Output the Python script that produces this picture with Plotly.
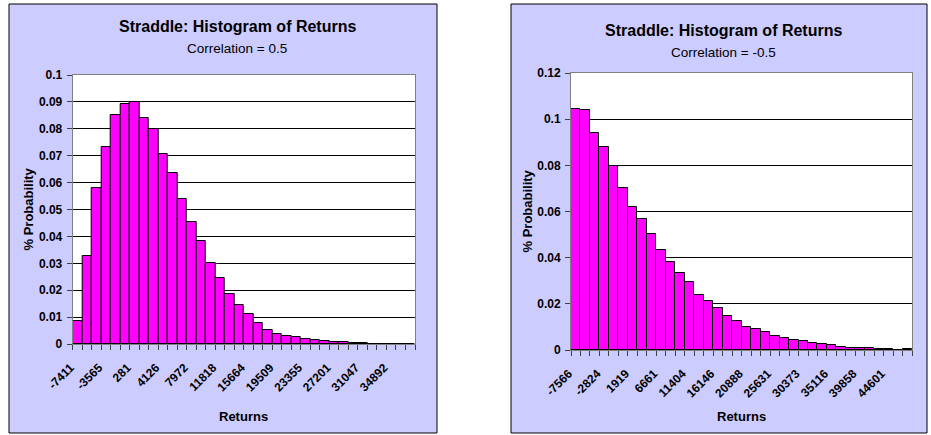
import plotly.graph_objects as go

W, H = 931, 435

# ---------------- data ----------------
left_categories = [
    "-7411", "-6129", "-4847", "-3565", "-2283", "-1001", "281", "1563", "2844",
    "4126", "5408", "6690", "7972", "9254", "10536", "11818", "13100", "14382",
    "15664", "16945", "18227", "19509", "20791", "22073", "23355", "24637", "25919",
    "27201", "28483", "29765", "31047", "32329", "33610", "34892", "36174", "37456",
]
left_probs = [
    0.0085, 0.0329, 0.0580, 0.0731, 0.0850, 0.0892, 0.0898, 0.0839, 0.0800,
    0.0705, 0.0635, 0.0538, 0.0452, 0.0384, 0.0301, 0.0244, 0.0186, 0.0146,
    0.0111, 0.0078, 0.0053, 0.0038, 0.0031, 0.0025, 0.0019, 0.0015, 0.0011,
    0.0007, 0.0006, 0.0004, 0.0002, 0.0, 0.0, 0.0, 0.0, 0.0,
]

right_categories = [
    "-7566", "-5985", "-4404", "-2824", "-1243", "338", "1919", "3500", "5080",
    "6661", "8242", "9823", "11404", "12985", "14565", "16146", "17727", "19307",
    "20888", "22469", "24050", "25631", "27212", "28792", "30373", "31954", "33535",
    "35116", "36697", "38277", "39858", "41439", "43020", "44601", "46182", "47762",
]
right_probs = [
    0.1045, 0.1038, 0.0938, 0.0879, 0.0799, 0.0703, 0.0618, 0.0569, 0.0501,
    0.0433, 0.0380, 0.0332, 0.0294, 0.0240, 0.0211, 0.0183, 0.0146, 0.0127,
    0.0101, 0.0089, 0.0076, 0.0061, 0.0050, 0.0043, 0.0039, 0.0029, 0.0024,
    0.0020, 0.0011, 0.0007, 0.0007, 0.0007, 0.0004, 0.0004, 0.0, 0.0004,
]

titles = ["Straddle: Histogram of Returns", "Straddle: Histogram of Returns"]
subtitles = ["Correlation = 0.5", "Correlation = -0.5"]
x_title = "Returns"
y_title = "% Probability"
label_step = 3


def px_x(p):
    return p / W


def px_y(p):
    return 1 - p / H


FONT = "Liberation Sans, Arial, sans-serif"
BAR_COLOR = "#FF00FF"
PANEL = "#CCCCFF"

fig = go.Figure()

for cats, vals, xa, ya in [
    (left_categories, left_probs, "x", "y"),
    (right_categories, right_probs, "x2", "y2"),
]:
    pos = list(range(len(cats)))
    fig.add_trace(go.Bar(
        x=pos, y=vals, customdata=cats, xaxis=xa, yaxis=ya, width=1,
        marker=dict(color=BAR_COLOR, line=dict(color="black", width=1)),
        hovertemplate="%{customdata}: %{y}<extra></extra>",
        showlegend=False,
    ))


def xaxis_cfg(domain, cats):
    pos = list(range(len(cats)))
    return dict(
        domain=domain, range=[-0.5, len(cats) - 0.5],
        tickmode="array", tickvals=pos[::label_step], ticktext=cats[::label_step],
        tickangle=-45, ticks="outside", ticklen=5, tickcolor="rgba(0,0,0,0)",
        ticklabelshift=-7, ticklabelstandoff=6,
        minor=dict(ticks="outside", tick0=-0.5, dtick=1, ticklen=5,
                   tickcolor="#404040", showgrid=False),
        tickfont=dict(family=FONT, size=12, color="black", weight="bold"),
        showline=True, linecolor="#808080", linewidth=1, mirror=True,
        showgrid=False, zeroline=False, fixedrange=True,
    )


def yaxis_cfg(domain, rng, dtick):
    return dict(
        domain=domain, range=rng, dtick=dtick, tick0=0,
        ticks="outside", ticklen=5, tickcolor="#404040",
        ticklabelstandoff=2,
        tickfont=dict(family=FONT, size=12, color="black", weight="bold"),
        showgrid=True, gridcolor="black", gridwidth=1,
        showline=True, linecolor="#808080", linewidth=1, mirror=True,
        zeroline=False, fixedrange=True,
    )


lx = xaxis_cfg([px_x(72.7), px_x(415)], left_categories)
lx["anchor"] = "y"
rx = xaxis_cfg([px_x(571), px_x(912.3)], right_categories)
rx["anchor"] = "y2"
ly = yaxis_cfg([px_y(344), px_y(75)], [0, 0.1], 0.01)
ly["anchor"] = "x"
ry = yaxis_cfg([px_y(350), px_y(73)], [0, 0.12], 0.02)
ry["anchor"] = "x2"

shapes = []
for x0, x1 in [(9, 437), (511, 927)]:
    shapes.append(dict(type="rect", xref="paper", yref="paper",
                       x0=px_x(x0), x1=px_x(x1), y0=px_y(433), y1=px_y(4),
                       fillcolor=PANEL, line=dict(color="black", width=1),
                       layer="below"))
for x0, x1, y0, y1 in [(72.7, 415, 344, 75), (571, 912.3, 350, 73)]:
    shapes.append(dict(type="rect", xref="paper", yref="paper",
                       x0=px_x(x0), x1=px_x(x1), y0=px_y(y0), y1=px_y(y1),
                       fillcolor="white", line=dict(width=0), layer="below"))

annotations = []
for i, (cx, ty, sy, yx, xty) in enumerate([
    (237, 26.5, 48.5, 28, 416),
    (723, 30.5, 53, 527, 416),
]):
    annotations.append(dict(text=titles[i], x=px_x(cx), y=px_y(ty), xref="paper", yref="paper",
                            showarrow=False, xanchor="center", yanchor="middle",
                            font=dict(family=FONT, size=16, color="black", weight="bold")))
    annotations.append(dict(text=subtitles[i], x=px_x(cx), y=px_y(sy), xref="paper", yref="paper",
                            showarrow=False, xanchor="center", yanchor="middle",
                            font=dict(family=FONT, size=13.5, color="black")))
    plot_mid_y = [209.5, 211.5][i]
    plot_mid_x = [243.8, 741.6][i]
    annotations.append(dict(text=y_title, x=px_x(yx), y=px_y(plot_mid_y), xref="paper", yref="paper",
                            showarrow=False, xanchor="center", yanchor="middle", textangle=-90,
                            font=dict(family=FONT, size=13, color="black", weight="bold")))
    annotations.append(dict(text=x_title, x=px_x(plot_mid_x), y=px_y(xty), xref="paper", yref="paper",
                            showarrow=False, xanchor="center", yanchor="middle",
                            font=dict(family=FONT, size=13, color="black", weight="bold")))

fig.update_layout(
    width=W, height=H, margin=dict(l=0, r=0, t=0, b=0, autoexpand=False),
    paper_bgcolor="white", plot_bgcolor="white",
    xaxis=lx, yaxis=ly, xaxis2=rx, yaxis2=ry,
    bargap=0, shapes=shapes, annotations=annotations,
    showlegend=False,
)

fig.write_html(
    "out.html",
    config={"displayModeBar": False},
    post_script="document.body.style.margin='0';document.body.style.overflow='hidden';",
)
